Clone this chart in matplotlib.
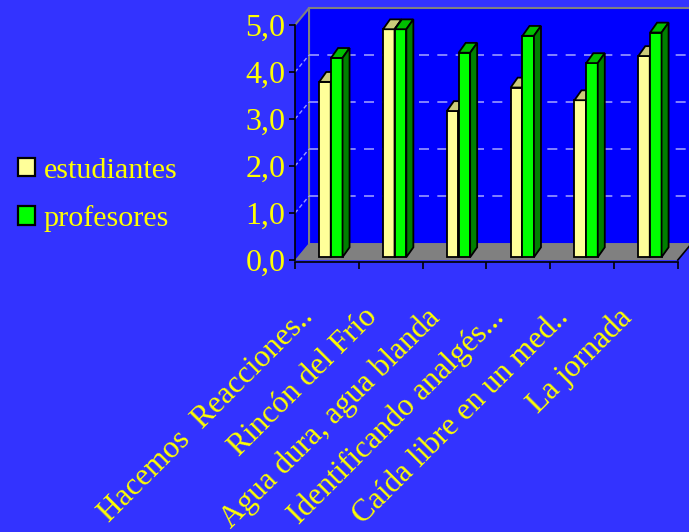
import matplotlib

matplotlib.use("Agg")
import matplotlib.pyplot as plt
import matplotlib.transforms as mtransforms
from matplotlib.patches import Patch, Polygon, Rectangle

categories = [
    "Hacemos  Reacciones..",
    "Rincón del Frío",
    "Agua dura, agua blanda",
    "Identificando analgés...",
    "Caída libre en un med..",
    "La jornada",
]
estudiantes = [3.73, 4.85, 3.11, 3.61, 3.34, 4.28]
profesores = [4.24, 4.85, 4.35, 4.71, 4.13, 4.78]
series_names = ["estudiantes", "profesores"]
y_ticks = [0, 1, 2, 3, 4, 5]
y_tick_labels = ["0,0", "1,0", "2,0", "3,0", "4,0", "5,0"]

BG = "#3333FF"
WALL = "#0000FF"
TEXT = "#FFFF00"
FONT = "Liberation Serif"

# fake 3D: depth offset of the walls and of each bar, in data units
WALL_DX, WALL_DY = 0.22, 0.36
BAR_DX, BAR_DY = 0.11, 0.21
BAR_W = 0.18
BAR_BASE = 0.06

plt.rcParams["font.family"] = [FONT, "DejaVu Serif"]

fig = plt.figure(figsize=(6.89, 5.32), dpi=100, facecolor=BG)
ax = fig.add_axes([295 / 689, 270 / 532, 394 / 689, 260 / 532])
ax.set_facecolor(BG)
ax.set_xlim(-0.5, 5.675)
ax.set_ylim(-2 / 47, 258 / 47)
n = len(categories)
ymax = y_ticks[-1]

# walls and floor
x_left, x_right = -0.5, n - 0.5
bx_left, bx_right = x_left + WALL_DX, x_right + WALL_DX
ax.add_patch(Rectangle((bx_left, WALL_DY), bx_right - bx_left, ymax, facecolor=WALL, edgecolor="none", zorder=0))
ax.add_patch(Polygon([(x_left, 0), (x_left, ymax), (bx_left, ymax + WALL_DY), (bx_left, WALL_DY)],
                     closed=True, facecolor=WALL, edgecolor="none", zorder=0))
ax.add_patch(Polygon([(x_left, 0), (x_right, 0), (bx_right, WALL_DY), (bx_left, WALL_DY)],
                     closed=True, facecolor="#808080", edgecolor="none", zorder=0.5))
ax.plot([x_right, bx_right], [0, WALL_DY], color="black", lw=1.2, zorder=1)
# wall border lines
ax.plot([x_left, bx_left, bx_left], [ymax, ymax + WALL_DY, WALL_DY], color="#808080", lw=1.5, zorder=1)
ax.plot([bx_left, bx_right], [ymax + WALL_DY, ymax + WALL_DY], color="#808080", lw=1.5, zorder=1)
# gridlines
for v in y_ticks[1:-1]:
    ax.plot([bx_left, bx_right], [v + WALL_DY, v + WALL_DY], color="#9999FF", lw=1.2, ls=(0, (6, 5)), zorder=1)
    ax.plot([x_left, bx_left], [v, v + WALL_DY], color="#9999FF", lw=1.0, ls=(0, (3, 2)), zorder=1)

# bars
styles = [
    ("#FFFF99", "#CCCC7A", "#999966", -0.03),
    ("#00FF00", "#00C000", "#008000", 0.155),
]
z = 2
for i in range(n):
    for vals, (front, top, side, off) in zip([estudiantes, profesores], styles):
        x0 = i + off - BAR_W / 2
        x1 = x0 + BAR_W
        h = vals[i]
        yt = BAR_BASE + h
        ax.bar(x0, h, width=BAR_W, bottom=BAR_BASE, align="edge", color=front, edgecolor="black", lw=1.3, zorder=z)
        ax.add_patch(Polygon([(x0, yt), (x0 + BAR_DX, yt + BAR_DY), (x1 + BAR_DX, yt + BAR_DY), (x1, yt)],
                             closed=True, facecolor=top, edgecolor="black", lw=1.3, zorder=z))
        ax.add_patch(Polygon([(x1, BAR_BASE), (x1 + BAR_DX, BAR_BASE + BAR_DY), (x1 + BAR_DX, yt + BAR_DY), (x1, yt)],
                             closed=True, facecolor=side, edgecolor="black", lw=1.3, zorder=z))
        z += 1

# axes
for s in ["top", "right"]:
    ax.spines[s].set_visible(False)
ax.spines["left"].set_bounds(0, ymax)
ax.spines["bottom"].set_bounds(x_left, x_right)
ax.spines["left"].set_linewidth(1.2)
ax.spines["bottom"].set_linewidth(1.2)
ax.spines["left"].set_zorder(20)
ax.spines["bottom"].set_zorder(20)
ax.set_yticks(y_ticks)
ax.set_yticklabels(y_tick_labels, color=TEXT, fontsize=23)
ax.tick_params(axis="y", length=4, width=1.2, color="black", pad=3)
ax.set_xticks([i - 0.5 for i in range(n + 1)], minor=True)
ax.set_xticks(range(n))
ax.set_xticklabels(categories, rotation=45, ha="right", va="top", color=TEXT, fontsize=22.5)
ax.tick_params(axis="x", which="major", length=0, pad=22)
ax.tick_params(axis="x", which="minor", length=5, width=1.2, color="black")
shift = mtransforms.ScaledTranslation(-8 / 100, -10 / 100, fig.dpi_scale_trans)
for lbl in ax.get_xticklabels():
    lbl.set_transform(lbl.get_transform() + shift)

handles = [Patch(facecolor=c[0], edgecolor="black", lw=1.6) for c in styles]
fig.legend(handles, series_names, loc="center left", bbox_to_anchor=(18 / 689, 1 - 195 / 532), frameon=False,
           labelcolor=TEXT, fontsize=21.7, handlelength=0.58, handleheight=0.58, handletextpad=0.28, labelspacing=0.72,
           borderpad=0, borderaxespad=0)

fig.savefig("out.png", dpi=100, facecolor=BG)
